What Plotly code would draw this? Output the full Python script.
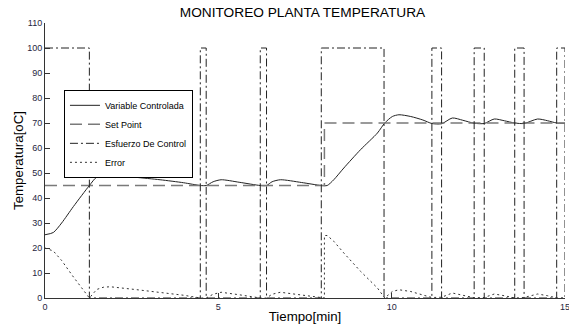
import plotly.graph_objects as go

# ---- data ----
pv_t = [0, 0.24, 0.48, 0.82, 1.28, 1.49, 1.68, 1.88, 2.6, 3.32, 4.0, 4.48, 4.65,
        4.85, 5.08, 5.6, 6.21, 6.39, 6.55, 6.79, 7.4, 7.97, 8.14, 8.33, 8.62,
        9.10, 9.59, 9.80, 10.02, 10.21, 10.55, 10.9, 11.16, 11.44, 11.75, 12.05,
        12.38, 12.67, 12.96, 13.25, 13.55, 13.82, 14.21, 14.5, 14.76, 15.0]
pv = [25.3, 26.2, 30.0, 36.6, 45.0, 48.4, 49.3, 49.3, 48.3, 47.3, 46.1, 45.0, 45.0,
      46.5, 47.3, 46.3, 45.0, 45.0, 46.5, 47.3, 46.2, 45.0, 45.0, 47.3, 52.0,
      59.3, 66.0, 70.0, 72.6, 73.3, 72.6, 71.2, 69.8, 69.7, 72.0, 71.1,
      69.9, 69.8, 71.6, 70.9, 70.0, 69.8, 71.6, 70.9, 70.0, 69.9]

sp_t = [0, 8.06, 15.0]
sp = [45, 70, 70]

ctrl_t = [0, 1.28, 4.48, 4.65, 6.21, 6.39, 7.97, 9.78, 11.16, 11.44,
          12.38, 12.67, 13.55, 13.82, 14.76, 15.0]
ctrl = [100, 0, 100, 0, 100, 0, 100, 0, 100, 0,
        100, 0, 100, 0, 100, 0]

err_t = [0, 0.24, 0.48, 0.82, 1.28, 1.49, 1.68, 1.88, 2.6, 3.32, 4.0, 4.48, 4.65,
         4.85, 5.08, 5.6, 6.21, 6.39, 6.55, 6.79, 7.4, 7.97, 8.06, 8.06, 8.14,
         8.33, 8.62, 9.10, 9.59, 9.80, 10.02, 10.21, 10.55, 10.9, 11.16, 11.44,
         11.75, 12.05, 12.38, 12.67, 12.96, 13.25, 13.55, 13.82, 14.21, 14.5,
         14.76, 15.0]
err = [20.0, 18.8, 15.0, 8.4, 0.0, 3.4, 4.3, 4.5, 3.4, 2.3, 1.1, 0.0, 0.0,
       1.5, 2.3, 1.3, 0.0, 0.0, 1.5, 2.3, 1.2, 0.0, 0.0, 25.0, 25.0,
       22.7, 18.0, 10.7, 4.0, 0.0, 2.6, 3.3, 2.6, 1.2, 0.2, 0.3,
       2.0, 1.1, 0.1, 0.2, 1.6, 0.9, 0.0, 0.2, 1.6, 0.9,
       0.0, 0.1]

x_ticks = [0, 5, 10, 15]
y_ticks = [0, 10, 20, 30, 40, 50, 60, 70, 80, 90, 100, 110]

FONT = "Liberation Sans, Arial, Helvetica, sans-serif"

fig = go.Figure()
fig.add_trace(go.Scatter(x=pv_t, y=pv, mode="lines", name="Variable Controlada",
                         line=dict(color="#222222", width=1, shape="spline", smoothing=0.7)))
fig.add_trace(go.Scatter(x=sp_t, y=sp, mode="lines", name="Set Point",
                         line=dict(color="#7a7a7a", width=1.5, dash="12px,6px", shape="hv")))
fig.add_trace(go.Scatter(x=ctrl_t, y=ctrl, mode="lines", name="Esfuerzo De Control",
                         line=dict(color="#222222", width=1, dash="8px,3px,2px,3px", shape="hv")))
fig.add_trace(go.Scatter(x=err_t, y=err, mode="lines", name="Error",
                         line=dict(color="#333333", width=1, dash="2px,3px")))

fig.update_layout(
    width=569, height=324,
    margin=dict(l=45, r=4, t=23, b=26, autoexpand=False),
    paper_bgcolor="white", plot_bgcolor="white",
    font=dict(family=FONT, color="#000000"),
    title=dict(text="MONITOREO PLANTA TEMPERATURA", x=0.5316, xref="container",
               xanchor="center", y=1 - 12 / 324, yref="container", yanchor="middle",
               font=dict(size=13.7, family=FONT, color="#000000")),
    showlegend=True,
    legend=dict(x=0.0365, y=0.757, xanchor="left", yanchor="top",
                bgcolor="white", bordercolor="#000000", borderwidth=1,
                font=dict(size=9, family=FONT, color="#000000"),
                tracegroupgap=0, itemwidth=30),
)
fig.update_xaxes(range=[0, 15], tickvals=x_ticks, ticktext=[str(v) for v in x_ticks],
                 ticks="inside", ticklen=5, tickcolor="#333333",
                 showline=True, linecolor="#333333", linewidth=1,
                 showgrid=False, zeroline=False, mirror=False,
                 ticklabeloverflow="allow",
                 tickfont=dict(size=9, color="#262640"),
                 title=dict(text="Tiempo[min]", font=dict(size=13.3, color="#000000"), standoff=2),
                 automargin=False)
fig.update_yaxes(range=[0, 110], tickvals=y_ticks, ticktext=[str(v) for v in y_ticks],
                 ticks="inside", ticklen=5, tickcolor="#333333",
                 showline=True, linecolor="#333333", linewidth=1,
                 showgrid=False, zeroline=False, mirror=False,
                 tickfont=dict(size=9, color="#262640"),
                 title=dict(text="Temperatura[oC]", font=dict(size=13.3, color="#000000"), standoff=0),
                 automargin=False)

fig.write_html("out.html", config={"displayModeBar": False},
               post_script="document.body.style.margin='0';document.body.style.overflow='hidden';")
